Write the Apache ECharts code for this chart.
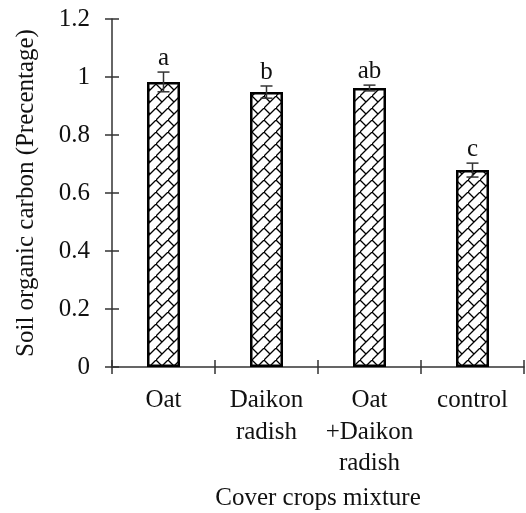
<!DOCTYPE html>
<html>
<head>
<meta charset="utf-8">
<script src="https://cdn.jsdelivr.net/npm/echarts@6/dist/echarts.min.js"></script>
<style>
html,body{margin:0;padding:0;background:#fff;}
#chart{width:526px;height:513px;}
</style>
</head>
<body>
<div id="chart"></div>
<script>
const categories = ['Oat', 'Daikon\nradish', 'Oat\n+Daikon\nradish', 'control'];
const values = [0.983, 0.948, 0.962, 0.679];
const errors = [0.034, 0.021, 0.010, 0.024];
const letters = ['a', 'b', 'ab', 'c'];
const yTicks = { min: 0, max: 1.2, interval: 0.2 };

const FONT = '"Liberation Serif", "Times New Roman", serif';

function makePattern() {
  const c = document.createElement('canvas');
  const s = 12;
  c.width = s; c.height = s;
  const g = c.getContext('2d');
  g.fillStyle = '#fff';
  g.fillRect(0, 0, s, s);
  g.strokeStyle = '#000';
  g.lineWidth = 1.3;
  g.beginPath();
  g.moveTo(-1, s + 1); g.lineTo(s + 1, -1);
  g.moveTo(0, 0); g.lineTo(s / 2, s / 2);
  g.stroke();
  return c;
}

const chart = echarts.init(document.getElementById('chart'), null, { renderer: 'canvas' });
const axisColor = '#333';
chart.setOption({
  animation: false,
  grid: { left: 112, right: 2, top: 19, bottom: 146, containLabel: false, outerBoundsMode: 'none' },
  xAxis: [{
    type: 'category',
    data: categories,
    position: 'bottom',
    axisLine: { lineStyle: { color: axisColor, width: 1.5 } },
    axisTick: { show: true, length: 7, lineStyle: { color: axisColor, width: 1.5 } },
    axisLabel: { color: '#111', fontFamily: FONT, fontSize: 25, lineHeight: 31.5, margin: 18, interval: 0 },
    name: 'Cover crops mixture',
    nameLocation: 'middle',
    nameGap: 119,
    nameTextStyle: { color: '#111', fontFamily: FONT, fontSize: 25 }
  }, {
    type: 'category',
    data: categories,
    position: 'bottom',
    axisLine: { show: false },
    axisTick: { show: true, inside: true, length: 7, lineStyle: { color: axisColor, width: 1.5 } },
    axisLabel: { show: false }
  }],
  yAxis: [{
    type: 'value',
    min: yTicks.min, max: yTicks.max, interval: yTicks.interval,
    splitLine: { show: false },
    axisLine: { show: true, lineStyle: { color: axisColor, width: 1.5 } },
    axisTick: { show: true, length: 7, lineStyle: { color: axisColor, width: 1.5 } },
    axisLabel: { color: '#111', fontFamily: FONT, fontSize: 25, margin: 22 },
    name: 'Soil organic carbon (Precentage)',
    nameLocation: 'middle',
    nameGap: 73,
    nameTextStyle: { color: '#111', fontFamily: FONT, fontSize: 25 }
  }, {
    type: 'value',
    min: yTicks.min, max: yTicks.max, interval: yTicks.interval,
    position: 'left',
    splitLine: { show: false },
    axisLine: { show: false },
    axisTick: { show: true, inside: true, length: 7, lineStyle: { color: axisColor, width: 1.5 } },
    axisLabel: { show: false }
  }],
  series: [{
    type: 'bar',
    data: values,
    barWidth: 33,
    itemStyle: {
      color: { image: makePattern(), repeat: 'repeat' },
      borderColor: '#000',
      borderWidth: 2.5
    },
    z: 2
  }, {
    type: 'custom',
    data: values.map((v, i) => [i, v, errors[i]]),
    z: 5,
    renderItem: function (params, api) {
      const i = api.value(0), v = api.value(1), e = api.value(2);
      const top = api.coord([i, v + e]);
      const bot = api.coord([i, v - e]);
      const hw = 6;
      const st = { stroke: '#333', lineWidth: 1.5 };
      return {
        type: 'group',
        children: [
          { type: 'line', shape: { x1: top[0], y1: top[1], x2: bot[0], y2: bot[1] }, style: st },
          { type: 'line', shape: { x1: top[0] - hw, y1: top[1], x2: top[0] + hw, y2: top[1] }, style: st },
          { type: 'line', shape: { x1: bot[0] - hw, y1: bot[1], x2: bot[0] + hw, y2: bot[1] }, style: st },
          { type: 'text', x: top[0], y: top[1] - 1, style: {
              text: letters[params.dataIndex], fill: '#111', font: '25px ' + FONT,
              textAlign: 'center', textVerticalAlign: 'bottom' } }
        ]
      };
    }
  }]
});
</script>
</body>
</html>
